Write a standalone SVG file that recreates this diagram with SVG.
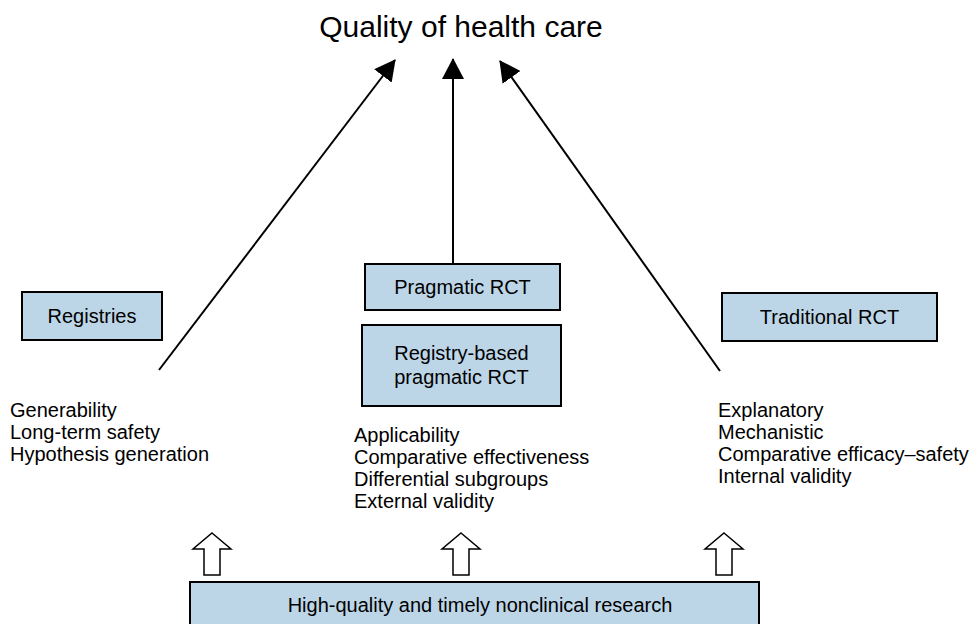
<svg xmlns="http://www.w3.org/2000/svg" width="973" height="624" viewBox="0 0 973 624">
<style>
  text { font-family: "Liberation Sans", Arial, sans-serif; fill: #000; }
  .box { fill: #bdd6e7; stroke: #000; stroke-width: 2; }
  .lbl { font-size: 20px; text-anchor: middle; }
  .lst { font-size: 20px; }
  .title { font-size: 30px; text-anchor: middle; }
  .conn { stroke: #000; stroke-width: 2; fill: none; marker-end: url(#ah); }
  .hollow { fill: #fff; stroke: #000; stroke-width: 1.5; stroke-linejoin: miter; }
</style>
<defs>
  <marker id="ah" markerUnits="userSpaceOnUse" markerWidth="22" markerHeight="22" refX="20" refY="11" orient="auto">
    <path d="M0,0 L21,11 L0,22 z" fill="#000"/>
  </marker>
  <path id="harrow" d="M0,0 L19,16 L8,16 L8,42 L-8,42 L-8,16 L-19,16 z"/>
</defs>
<rect width="973" height="624" fill="#fff"/>

<g id="title">
  <text class="title" x="461" y="37">Quality of health care</text>
</g>

<g id="connectors">
  <line class="conn" x1="159" y1="370" x2="395" y2="60"/>
  <line class="conn" x1="453" y1="264" x2="453" y2="59"/>
  <line class="conn" x1="720" y1="371" x2="500" y2="61"/>
  <use href="#harrow" class="hollow" x="212" y="533"/>
  <use href="#harrow" class="hollow" x="461" y="533"/>
  <use href="#harrow" class="hollow" x="724" y="533"/>
</g>

<g id="registries">
  <rect class="box" x="22" y="292" width="140" height="48"/>
  <text class="lbl" x="92" y="323">Registries</text>
</g>

<g id="pragmatic-rct">
  <rect class="box" x="365" y="264" width="195" height="46"/>
  <text class="lbl" x="462.5" y="294">Pragmatic RCT</text>
</g>

<g id="registry-based-rct">
  <rect class="box" x="362" y="325" width="199" height="81"/>
  <text class="lbl" x="461.5" y="360">Registry-based</text>
  <text class="lbl" x="461.5" y="384">pragmatic RCT</text>
</g>

<g id="traditional-rct">
  <rect class="box" x="722" y="293" width="215" height="48"/>
  <text class="lbl" x="829.5" y="324">Traditional RCT</text>
</g>

<g id="nonclinical-research">
  <rect class="box" x="190" y="582" width="569" height="60"/>
  <text class="lbl" x="480" y="612">High-quality and timely nonclinical research</text>
</g>

<g id="registries-attributes">
  <text class="lst" x="10" y="417">Generability</text>
  <text class="lst" x="10" y="439">Long-term safety</text>
  <text class="lst" x="10" y="461">Hypothesis generation</text>
</g>

<g id="pragmatic-attributes">
  <text class="lst" x="354" y="442">Applicability</text>
  <text class="lst" x="354" y="464">Comparative effectiveness</text>
  <text class="lst" x="354" y="486">Differential subgroups</text>
  <text class="lst" x="354" y="508">External validity</text>
</g>

<g id="traditional-attributes">
  <text class="lst" x="718" y="417">Explanatory</text>
  <text class="lst" x="718" y="439">Mechanistic</text>
  <text class="lst" x="718" y="461">Comparative efficacy–safety</text>
  <text class="lst" x="718" y="483">Internal validity</text>
</g>
</svg>
